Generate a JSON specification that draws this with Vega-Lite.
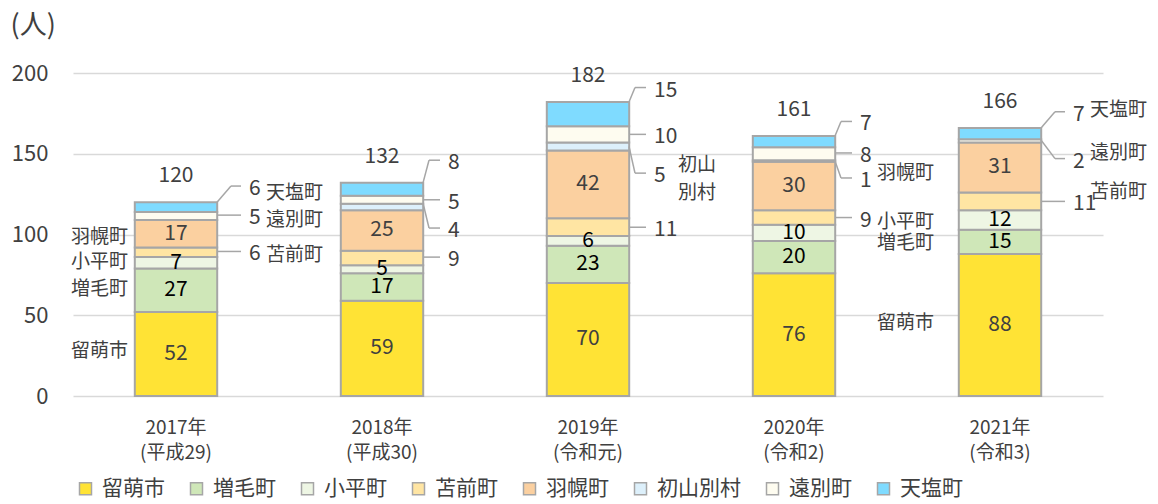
{
  "$schema": "https://vega.github.io/schema/vega-lite/v6.json",
  "width": 1030,
  "height": 323,
  "autosize": "none",
  "padding": {"left": 73, "top": 73, "right": 55, "bottom": 108},
  "config": {
    "font": "Noto Sans CJK JP",
    "view": {"stroke": null},
    "text": {"font": "Noto Sans CJK JP"}
  },
  "datasets": {
    "pop": [
      {"year": "2017年\n(平成29)", "area": "留萌市", "rank": 1, "value": 52},
      {"year": "2017年\n(平成29)", "area": "増毛町", "rank": 2, "value": 27},
      {"year": "2017年\n(平成29)", "area": "小平町", "rank": 3, "value": 7},
      {"year": "2017年\n(平成29)", "area": "苫前町", "rank": 4, "value": 6},
      {"year": "2017年\n(平成29)", "area": "羽幌町", "rank": 5, "value": 17},
      {"year": "2017年\n(平成29)", "area": "遠別町", "rank": 7, "value": 5},
      {"year": "2017年\n(平成29)", "area": "天塩町", "rank": 8, "value": 6},
      {"year": "2018年\n(平成30)", "area": "留萌市", "rank": 1, "value": 59},
      {"year": "2018年\n(平成30)", "area": "増毛町", "rank": 2, "value": 17},
      {"year": "2018年\n(平成30)", "area": "小平町", "rank": 3, "value": 5},
      {"year": "2018年\n(平成30)", "area": "苫前町", "rank": 4, "value": 9},
      {"year": "2018年\n(平成30)", "area": "羽幌町", "rank": 5, "value": 25},
      {"year": "2018年\n(平成30)", "area": "初山別村", "rank": 6, "value": 4},
      {"year": "2018年\n(平成30)", "area": "遠別町", "rank": 7, "value": 5},
      {"year": "2018年\n(平成30)", "area": "天塩町", "rank": 8, "value": 8},
      {"year": "2019年\n(令和元)", "area": "留萌市", "rank": 1, "value": 70},
      {"year": "2019年\n(令和元)", "area": "増毛町", "rank": 2, "value": 23},
      {"year": "2019年\n(令和元)", "area": "小平町", "rank": 3, "value": 6},
      {"year": "2019年\n(令和元)", "area": "苫前町", "rank": 4, "value": 11},
      {"year": "2019年\n(令和元)", "area": "羽幌町", "rank": 5, "value": 42},
      {"year": "2019年\n(令和元)", "area": "初山別村", "rank": 6, "value": 5},
      {"year": "2019年\n(令和元)", "area": "遠別町", "rank": 7, "value": 10},
      {"year": "2019年\n(令和元)", "area": "天塩町", "rank": 8, "value": 15},
      {"year": "2020年\n(令和2)", "area": "留萌市", "rank": 1, "value": 76},
      {"year": "2020年\n(令和2)", "area": "増毛町", "rank": 2, "value": 20},
      {"year": "2020年\n(令和2)", "area": "小平町", "rank": 3, "value": 10},
      {"year": "2020年\n(令和2)", "area": "苫前町", "rank": 4, "value": 9},
      {"year": "2020年\n(令和2)", "area": "羽幌町", "rank": 5, "value": 30},
      {"year": "2020年\n(令和2)", "area": "初山別村", "rank": 6, "value": 1},
      {"year": "2020年\n(令和2)", "area": "遠別町", "rank": 7, "value": 8},
      {"year": "2020年\n(令和2)", "area": "天塩町", "rank": 8, "value": 7},
      {"year": "2021年\n(令和3)", "area": "留萌市", "rank": 1, "value": 88},
      {"year": "2021年\n(令和3)", "area": "増毛町", "rank": 2, "value": 15},
      {"year": "2021年\n(令和3)", "area": "小平町", "rank": 3, "value": 12},
      {"year": "2021年\n(令和3)", "area": "苫前町", "rank": 4, "value": 11},
      {"year": "2021年\n(令和3)", "area": "羽幌町", "rank": 5, "value": 31},
      {"year": "2021年\n(令和3)", "area": "遠別町", "rank": 7, "value": 2},
      {"year": "2021年\n(令和3)", "area": "天塩町", "rank": 8, "value": 7}
    ],
    "notes": [
      {"year": "2017年\n(平成29)", "area": "天塩町", "value": 6, "seg": 120, "at": 130},
      {"year": "2017年\n(平成29)", "area": "遠別町", "value": 5, "seg": 112, "at": 112},
      {"year": "2017年\n(平成29)", "area": "苫前町", "value": 6, "seg": 89.5, "at": 89.5},
      {"year": "2018年\n(平成30)", "area": "天塩町", "value": 8, "seg": 132, "at": 146},
      {"year": "2018年\n(平成30)", "area": "遠別町", "value": 5, "seg": 121.5, "at": 121.5},
      {"year": "2018年\n(平成30)", "area": "初山別村", "value": 4, "seg": 119.5, "at": 104},
      {"year": "2018年\n(平成30)", "area": "苫前町", "value": 9, "seg": 86, "at": 86},
      {"year": "2019年\n(令和元)", "area": "天塩町", "value": 15, "seg": 182, "at": 191},
      {"year": "2019年\n(令和元)", "area": "遠別町", "value": 10, "seg": 162, "at": 162},
      {"year": "2019年\n(令和元)", "area": "初山別村", "value": 5, "seg": 154.5, "at": 138},
      {"year": "2019年\n(令和元)", "area": "苫前町", "value": 11, "seg": 104.5, "at": 104.5},
      {"year": "2020年\n(令和2)", "area": "天塩町", "value": 7, "seg": 161, "at": 170},
      {"year": "2020年\n(令和2)", "area": "遠別町", "value": 8, "seg": 150.5, "at": 150.5},
      {"year": "2020年\n(令和2)", "area": "初山別村", "value": 1, "seg": 145.5, "at": 135},
      {"year": "2020年\n(令和2)", "area": "苫前町", "value": 9, "seg": 110.5, "at": 110.5},
      {"year": "2021年\n(令和3)", "area": "天塩町", "value": 7, "seg": 166, "at": 176},
      {"year": "2021年\n(令和3)", "area": "遠別町", "value": 2, "seg": 158.5, "at": 147},
      {"year": "2021年\n(令和3)", "area": "苫前町", "value": 11, "seg": 120.5, "at": 120.5}
    ],
    "names": [
      {"year": "2017年\n(平成29)", "name": "天塩町", "side": "R", "at": 125.7},
      {"year": "2017年\n(平成29)", "name": "遠別町", "side": "R", "at": 109},
      {"year": "2017年\n(平成29)", "name": "苫前町", "side": "R", "at": 87.3},
      {"year": "2019年\n(令和元)", "name": "初山\n別村", "side": "R", "at": 143},
      {"year": "2021年\n(令和3)", "name": "天塩町", "side": "R", "at": 177.1},
      {"year": "2021年\n(令和3)", "name": "遠別町", "side": "R", "at": 150.5},
      {"year": "2021年\n(令和3)", "name": "苫前町", "side": "R", "at": 126.3},
      {"year": "2017年\n(平成29)", "name": "羽幌町", "side": "L", "at": 98.5},
      {"year": "2017年\n(平成29)", "name": "小平町", "side": "L", "at": 83},
      {"year": "2017年\n(平成29)", "name": "増毛町", "side": "L", "at": 66.3},
      {"year": "2017年\n(平成29)", "name": "留萌市", "side": "L", "at": 27.9},
      {"year": "2021年\n(令和3)", "name": "羽幌町", "side": "L", "at": 138.1},
      {"year": "2021年\n(令和3)", "name": "小平町", "side": "L", "at": 107.7},
      {"year": "2021年\n(令和3)", "name": "増毛町", "side": "L", "at": 94.7},
      {"year": "2021年\n(令和3)", "name": "留萌市", "side": "L", "at": 45.2}
    ]
  },
  "layer": [
    {
      "data": {"name": "pop"},
      "mark": {"type": "bar", "stroke": "#a6a6a6", "strokeWidth": 2},
      "encoding": {
        "x": {
          "field": "year", "type": "nominal", "sort": null,
          "scale": {"paddingInner": 0.6, "paddingOuter": 0.3},
          "axis": {"title": null, "labelAngle": 0, "domain": false, "ticks": false, "grid": false,
                   "labelPadding": 22, "labelFontSize": 19, "labelColor": "#404040",
                   "labelLineHeight": 25, "labelBaseline": "top",
                   "labelExpr": "split(datum.label, '\\n')"}
        },
        "y": {
          "field": "value", "type": "quantitative", "stack": "zero",
          "scale": {"domain": [0, 200], "nice": false},
          "axis": {"title": "(人)", "values": [0, 50, 100, 150, 200], "domain": false, "ticks": false,
                   "labelPadding": 25, "labelFontSize": 22, "labelColor": "#404040",
                   "gridColor": "#d9d9d9", "gridWidth": 1.5,
                   "titleAngle": 0, "titleAlign": "left", "titleBaseline": "middle",
                   "titleX": -63, "titleY": -48, "titleFontSize": 27, "titleFontWeight": "normal",
                   "titleColor": "#404040"}
        },
        "color": {
          "field": "area", "type": "nominal",
          "scale": {
            "domain": ["留萌市", "増毛町", "小平町", "苫前町", "羽幌町", "初山別村", "遠別町", "天塩町"],
            "range": ["#ffe335", "#cfe7b8", "#eef6e4", "#ffe5a3", "#fbd0a0", "#ddf0fb", "#fefcf0", "#7fdbff"]
          },
          "legend": {
            "title": null, "orient": "none", "legendX": 2, "legendY": 405,
            "direction": "horizontal", "columns": 8, "padding": 0,
            "symbolType": "square", "symbolSize": 144, "symbolStrokeColor": "#a6a6a6",
            "symbolStrokeWidth": 1.5, "symbolOpacity": 1,
            "labelFontSize": 21, "labelColor": "#404040", "labelOffset": 6, "columnPadding": 21
          }
        },
        "order": {"field": "rank", "type": "quantitative"}
      }
    },
    {
      "data": {"name": "pop"},
      "mark": {"type": "text", "fontSize": 21, "baseline": "middle"},
      "encoding": {
        "x": {"field": "year", "type": "nominal", "sort": null},
        "y": {"field": "value", "type": "quantitative", "stack": "zero", "bandPosition": 0.5},
        "detail": {"field": "area", "type": "nominal"},
        "order": {"field": "rank", "type": "quantitative"},
        "color": {"condition": {"test": "datum.area == '増毛町' || datum.area == '小平町'", "value": "#000000"}, "value": "#404040"},
        "text": {"condition": {"test": "datum.area == '留萌市' || datum.area == '増毛町' || datum.area == '小平町' || datum.area == '羽幌町'", "field": "value", "type": "quantitative"}, "value": ""}
      }
    },
    {
      "data": {"name": "pop"},
      "mark": {"type": "text", "fontSize": 21, "baseline": "middle", "dy": -26, "color": "#404040"},
      "encoding": {
        "x": {"field": "year", "type": "nominal", "sort": null},
        "y": {"aggregate": "sum", "field": "value", "type": "quantitative"},
        "text": {"aggregate": "sum", "field": "value", "type": "quantitative"}
      }
    },
    {
      "data": {"name": "notes"},
      "transform": [{"filter": "indexof(datum.year, '2017') != 0 && indexof(datum.year, '2021') != 0"}],
      "mark": {"type": "rule", "color": "#a6a6a6", "strokeWidth": 1.5, "xOffset": 41, "x2Offset": 47},
      "encoding": {
        "x": {"field": "year", "type": "nominal", "sort": null},
        "x2": {"field": "year"},
        "y": {"field": "seg", "type": "quantitative"},
        "y2": {"field": "at"}
      }
    },
    {
      "data": {"name": "notes"},
      "transform": [{"filter": "indexof(datum.year, '2017') != 0 && indexof(datum.year, '2021') != 0"}],
      "mark": {"type": "rule", "color": "#a6a6a6", "strokeWidth": 1.5, "xOffset": 47, "x2Offset": 58},
      "encoding": {
        "x": {"field": "year", "type": "nominal", "sort": null},
        "x2": {"field": "year"},
        "y": {"field": "at", "type": "quantitative"},
        "y2": {"field": "at"}
      }
    },
    {
      "data": {"name": "notes"},
      "transform": [{"filter": "indexof(datum.year, '2017') != 0 && indexof(datum.year, '2021') != 0"}],
      "mark": {"type": "text", "fontSize": 21, "baseline": "middle", "align": "left", "dx": 66, "dy": 3, "color": "#404040"},
      "encoding": {
        "x": {"field": "year", "type": "nominal", "sort": null},
        "y": {"field": "at", "type": "quantitative"},
        "text": {"field": "value", "type": "quantitative"}
      }
    },
    {
      "data": {"name": "notes"},
      "transform": [{"filter": "indexof(datum.year, '2017') == 0 || indexof(datum.year, '2021') == 0"}],
      "mark": {"type": "rule", "color": "#a6a6a6", "strokeWidth": 1.5, "xOffset": 41, "x2Offset": 55},
      "encoding": {
        "x": {"field": "year", "type": "nominal", "sort": null},
        "x2": {"field": "year"},
        "y": {"field": "seg", "type": "quantitative"},
        "y2": {"field": "at"}
      }
    },
    {
      "data": {"name": "notes"},
      "transform": [{"filter": "indexof(datum.year, '2017') == 0 || indexof(datum.year, '2021') == 0"}],
      "mark": {"type": "rule", "color": "#a6a6a6", "strokeWidth": 1.5, "xOffset": 55, "x2Offset": 65},
      "encoding": {
        "x": {"field": "year", "type": "nominal", "sort": null},
        "x2": {"field": "year"},
        "y": {"field": "at", "type": "quantitative"},
        "y2": {"field": "at"}
      }
    },
    {
      "data": {"name": "notes"},
      "transform": [{"filter": "indexof(datum.year, '2017') == 0 || indexof(datum.year, '2021') == 0"}],
      "mark": {"type": "text", "fontSize": 21, "baseline": "middle", "align": "left", "dx": 73, "dy": 3, "color": "#404040"},
      "encoding": {
        "x": {"field": "year", "type": "nominal", "sort": null},
        "y": {"field": "at", "type": "quantitative"},
        "text": {"field": "value", "type": "quantitative"}
      }
    },
    {
      "data": {"name": "names"},
      "transform": [{"filter": "datum.side == 'R'"}],
      "mark": {"type": "text", "fontSize": 19, "baseline": "middle", "align": "left", "dx": 90, "color": "#404040", "lineBreak": "\n", "lineHeight": 28},
      "encoding": {
        "x": {"field": "year", "type": "nominal", "sort": null},
        "y": {"field": "at", "type": "quantitative"},
        "text": {"field": "name", "type": "nominal"}
      }
    },
    {
      "data": {"name": "names"},
      "transform": [{"filter": "datum.side == 'L' && indexof(datum.year, '2017') == 0"}],
      "mark": {"type": "text", "fontSize": 19, "baseline": "middle", "align": "right", "dx": -48, "color": "#404040"},
      "encoding": {
        "x": {"field": "year", "type": "nominal", "sort": null},
        "y": {"field": "at", "type": "quantitative"},
        "text": {"field": "name", "type": "nominal"}
      }
    },
    {
      "data": {"name": "names"},
      "transform": [{"filter": "datum.side == 'L' && indexof(datum.year, '2021') == 0"}],
      "mark": {"type": "text", "fontSize": 19, "baseline": "middle", "align": "right", "dx": -66, "color": "#404040"},
      "encoding": {
        "x": {"field": "year", "type": "nominal", "sort": null},
        "y": {"field": "at", "type": "quantitative"},
        "text": {"field": "name", "type": "nominal"}
      }
    }
  ]
}
